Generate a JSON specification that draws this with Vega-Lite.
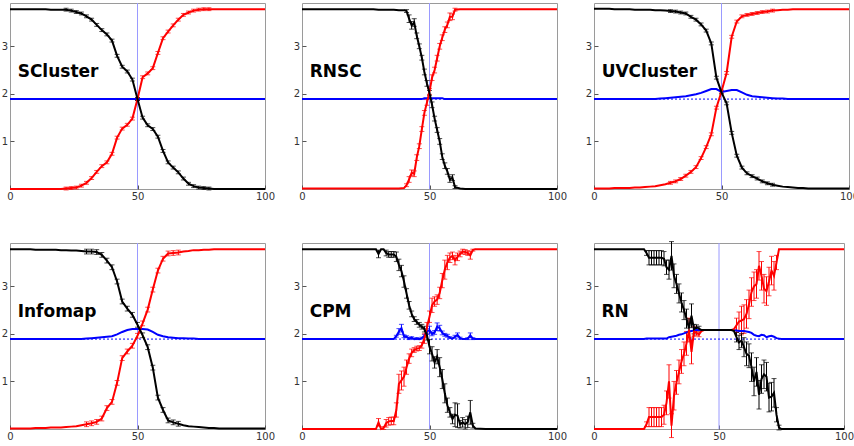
{
"$schema": "https://vega.github.io/schema/vega-lite/v6.json",
"padding": {"left": 0, "top": 2, "right": 0, "bottom": 0},
"background": "white",
"config": {
  "view": {"stroke": "#9a9a9a", "strokeWidth": 1},
  "axis": {"domain": false, "grid": false, "ticks": true, "tickSize": -4, "tickColor": "#555555", "tickWidth": 1, "labelFont": "DejaVu Sans", "labelFontSize": 10, "labelColor": "#333333", "labelFlush": false, "labelOverlap": false}
},
"data": {"values": [
{"p":"SCluster","s":"b","x":[0,2,4,6,8,10,12,14,16,18,20,22,24,26,28,30,32,34,36,38,40,42,44,46,48,50,52,54,56,58,60,62,64,66,68,70,72,74,76,78,80,82,84,86,88,90,92,94,96,98,100],
 "y":[1.89,1.89,1.89,1.89,1.89,1.89,1.89,1.89,1.89,1.89,1.89,1.89,1.89,1.89,1.89,1.89,1.89,1.89,1.89,1.89,1.89,1.89,1.89,1.89,1.89,1.89,1.89,1.89,1.89,1.89,1.89,1.89,1.89,1.89,1.89,1.89,1.89,1.89,1.89,1.89,1.89,1.89,1.89,1.89,1.89,1.89,1.89,1.89,1.89,1.89,1.89],"e":[]},
{"p":"SCluster","s":"r","x":[0,2,4,6,8,10,12,14,16,18,20,22,24,26,28,30,32,34,36,38,40,42,44,46,48,50,52,54,56,58,60,62,64,66,68,70,72,74,76,78,80,82,84,86,88,90,92,94,96,98,100],
 "y":[0,0,0,0,0,0,0,0,0,0,0,0.01,0.02,0.03,0.07,0.13,0.23,0.36,0.48,0.56,0.74,1.08,1.27,1.35,1.48,1.89,2.35,2.43,2.54,2.86,3.17,3.31,3.44,3.56,3.66,3.71,3.75,3.77,3.78,3.78,3.78,3.78,3.78,3.78,3.78,3.78,3.78,3.78,3.78,3.78,3.78],
 "e":[0,0,0,0,0,0,0,0,0,0,0,0.03,0.03,0.03,0.03,0.03,0.03,0.03,0.03,0.03,0.03,0.03,0.03,0.03,0.03,0.03,0.03,0.03,0.03,0.03,0.03,0.03,0.03,0.03,0.03,0.03,0.03,0.03,0.03,0.03]},
{"p":"SCluster","s":"k","x":[0,2,4,6,8,10,12,14,16,18,20,22,24,26,28,30,32,34,36,38,40,42,44,46,48,50,52,54,56,58,60,62,64,66,68,70,72,74,76,78,80,82,84,86,88,90,92,94,96,98,100],
 "y":[3.78,3.78,3.78,3.78,3.78,3.78,3.78,3.78,3.77,3.77,3.77,3.77,3.75,3.72,3.69,3.63,3.56,3.45,3.34,3.25,3.12,2.80,2.57,2.47,2.30,1.89,1.50,1.34,1.26,1.10,0.80,0.56,0.45,0.35,0.22,0.11,0.06,0.03,0.02,0.01,0,0,0,0,0,0,0,0,0,0,0],
 "e":[0,0,0,0,0,0,0,0,0,0,0,0.03,0.03,0.03,0.03,0.03,0.03,0.03,0.03,0.03,0.03,0.03,0.03,0.03,0.03,0.03,0.03,0.03,0.03,0.03,0.03,0.03,0.03,0.03,0.03,0.03,0.03,0.03,0.03,0.03]},
{"p":"RNSC","s":"b","x":[0,2,4,6,8,10,12,14,16,18,20,22,24,26,28,30,32,34,36,38,40,41,42,43,44,45,46,47,48,49,50,51,52,53,54,55,56,57,58,59,60,62,64,66,68,70,72,74,76,78,80,82,84,86,88,90,92,94,96,98,100],
 "y":[1.89,1.89,1.89,1.89,1.89,1.89,1.89,1.89,1.89,1.89,1.89,1.89,1.89,1.89,1.89,1.89,1.89,1.89,1.89,1.89,1.89,1.89,1.89,1.89,1.89,1.89,1.89,1.89,1.91,1.91,1.91,1.91,1.91,1.91,1.91,1.91,1.89,1.89,1.89,1.89,1.89,1.89,1.89,1.89,1.89,1.89,1.89,1.89,1.89,1.89,1.89,1.89,1.89,1.89,1.89,1.89,1.89,1.89,1.89,1.89,1.89],"e":[]},
{"p":"RNSC","s":"r","x":[0,2,4,6,8,10,12,14,16,18,20,22,24,26,28,30,32,34,36,38,40,41,42,43,44,45,46,47,48,49,50,51,52,53,54,55,56,57,58,59,60,62,64,66,68,70,72,74,76,78,80,82,84,86,88,90,92,94,96,98,100],
 "y":[0.01,0.01,0.01,0.01,0.01,0.01,0.01,0.01,0.01,0.01,0.01,0.01,0.01,0.01,0.01,0.01,0.01,0.01,0.01,0.01,0.02,0.08,0.20,0.34,0.32,0.66,0.90,1.26,1.60,1.82,2.05,2.34,2.50,2.75,3.00,3.18,3.35,3.45,3.62,3.62,3.77,3.78,3.78,3.78,3.78,3.78,3.78,3.78,3.78,3.78,3.78,3.78,3.78,3.78,3.78,3.78,3.78,3.78,3.78,3.78,3.78],
 "e":[0,0,0,0,0,0,0,0,0,0,0,0,0,0,0,0,0,0,0,0,0,0.03,0.06,0.06,0.06,0.06,0.05,0.05,0.05,0.06,0.06,0.06,0.06,0.06,0.06,0.06,0.06,0.06,0.08,0.06,0.03]},
{"p":"RNSC","s":"k","x":[0,2,4,6,8,10,12,14,16,18,20,22,24,26,28,30,32,34,36,38,40,41,42,43,44,45,46,47,48,49,50,51,52,53,54,55,56,57,58,59,60,62,64,66,68,70,72,74,76,78,80,82,84,86,88,90,92,94,96,98,100],
 "y":[3.78,3.78,3.78,3.78,3.78,3.78,3.78,3.78,3.78,3.78,3.78,3.78,3.78,3.78,3.78,3.77,3.77,3.77,3.77,3.76,3.76,3.74,3.58,3.44,3.50,3.22,3.00,2.76,2.46,2.22,2.02,1.77,1.48,1.24,1.00,0.68,0.49,0.37,0.20,0.24,0.04,0.01,0,0,0,0,0,0,0,0,0,0,0,0,0,0,0,0,0,0,0],
 "e":[0,0,0,0,0,0,0,0,0,0,0,0,0,0,0,0,0,0,0,0,0,0.03,0.08,0.08,0.08,0.06,0.05,0.05,0.06,0.06,0.05,0.06,0.05,0.05,0.06,0.06,0.06,0.06,0.06,0.06,0.03]},
{"p":"UVCluster","s":"b","x":[0,2,4,6,8,10,12,14,16,18,20,22,24,26,28,30,32,34,36,38,40,42,44,46,48,50,52,54,56,58,60,62,64,66,68,70,72,74,76,78,80,82,84,86,88,90,92,94,96,98,100],
 "y":[1.89,1.89,1.89,1.89,1.89,1.89,1.89,1.89,1.89,1.89,1.89,1.89,1.89,1.90,1.91,1.92,1.93,1.94,1.95,1.97,1.99,2.02,2.06,2.10,2.10,2.04,2.06,2.08,2.08,2.03,1.98,1.95,1.94,1.93,1.92,1.91,1.90,1.90,1.89,1.89,1.89,1.89,1.89,1.89,1.89,1.89,1.89,1.89,1.89,1.89,1.89],"e":[]},
{"p":"UVCluster","s":"r","x":[0,2,4,6,8,10,12,14,16,18,20,22,24,26,28,30,32,34,36,38,40,42,44,46,48,50,52,54,56,58,60,62,64,66,68,70,72,74,76,78,80,82,84,86,88,90,92,94,96,98,100],
 "y":[0.01,0.01,0.01,0.01,0.02,0.02,0.02,0.02,0.03,0.03,0.04,0.05,0.06,0.08,0.10,0.13,0.16,0.21,0.28,0.36,0.46,0.65,0.88,1.15,1.71,2.05,2.44,3.20,3.52,3.63,3.66,3.68,3.70,3.72,3.73,3.75,3.76,3.77,3.77,3.78,3.78,3.78,3.78,3.78,3.78,3.78,3.78,3.78,3.78,3.78,3.78],
 "e":[0,0,0,0,0,0,0,0,0,0,0,0,0,0,0,0.03,0.03,0.03,0.03,0.03,0.03,0.03,0.03,0.03,0.03,0.03,0.03,0.03,0.03,0.03,0.03,0.03,0.03,0.03,0.03,0.03]},
{"p":"UVCluster","s":"k","x":[0,2,4,6,8,10,12,14,16,18,20,22,24,26,28,30,32,34,36,38,40,42,44,46,48,50,52,54,56,58,60,62,64,66,68,70,72,74,76,78,80,82,84,86,88,90,92,94,96,98,100],
 "y":[3.79,3.79,3.79,3.79,3.78,3.78,3.78,3.78,3.77,3.77,3.77,3.77,3.76,3.76,3.75,3.74,3.73,3.71,3.69,3.62,3.56,3.46,3.33,3.06,2.34,2.03,1.80,1.18,0.70,0.45,0.33,0.27,0.22,0.16,0.12,0.09,0.07,0.05,0.04,0.03,0.02,0.02,0.01,0.01,0.01,0.01,0.01,0.01,0.01,0.01,0.01],
 "e":[0,0,0,0,0,0,0,0,0,0,0,0,0,0,0,0.03,0.03,0.03,0.03,0.03,0.03,0.03,0.03,0.03,0.03,0.03,0.03,0.03,0.03,0.03,0.03,0.03,0.03,0.03,0.03,0.03]},
{"p":"Infomap","s":"b","x":[0,2,4,6,8,10,12,14,16,18,20,22,24,26,28,30,32,34,36,38,40,42,44,46,48,50,52,54,56,58,60,62,64,66,68,70,72,74,76,78,80,82,84,86,88,90,92,94,96,98,100],
 "y":[1.89,1.89,1.89,1.89,1.89,1.89,1.89,1.89,1.89,1.89,1.89,1.89,1.89,1.89,1.89,1.90,1.91,1.92,1.93,1.94,1.95,1.99,2.04,2.08,2.10,2.10,2.10,2.09,2.04,1.98,1.95,1.93,1.92,1.91,1.91,1.90,1.90,1.89,1.89,1.89,1.89,1.89,1.89,1.89,1.89,1.89,1.89,1.89,1.89,1.89,1.89],"e":[]},
{"p":"Infomap","s":"r","x":[0,2,4,6,8,10,12,14,16,18,20,22,24,26,28,30,32,34,36,38,40,42,44,46,48,50,52,54,56,58,60,62,64,66,68,70,72,74,76,78,80,82,84,86,88,90,92,94,96,98,100],
 "y":[0.01,0.01,0.01,0.01,0.01,0.02,0.02,0.02,0.03,0.03,0.03,0.04,0.05,0.06,0.08,0.10,0.12,0.15,0.22,0.44,0.57,0.97,1.49,1.63,1.75,1.96,2.22,2.51,2.93,3.33,3.58,3.69,3.70,3.71,3.73,3.74,3.76,3.76,3.77,3.77,3.78,3.78,3.78,3.78,3.78,3.78,3.78,3.78,3.78,3.78,3.78],
 "e":[0,0,0,0,0,0,0,0,0,0,0,0,0,0,0,0.05,0.05,0.05,0.05,0.05,0.05,0.05,0.05,0.05,0.05,0.05,0.05,0.05,0.05,0.05,0.05,0.05,0.05,0.05]},
{"p":"Infomap","s":"k","x":[0,2,4,6,8,10,12,14,16,18,20,22,24,26,28,30,32,34,36,38,40,42,44,46,48,50,52,54,56,58,60,62,64,66,68,70,72,74,76,78,80,82,84,86,88,90,92,94,96,98,100],
 "y":[3.78,3.78,3.78,3.78,3.78,3.77,3.77,3.77,3.77,3.77,3.76,3.76,3.75,3.75,3.74,3.73,3.73,3.72,3.66,3.54,3.40,3.10,2.68,2.53,2.40,2.19,1.97,1.72,1.29,0.66,0.40,0.18,0.14,0.11,0.08,0.06,0.05,0.04,0.03,0.02,0.02,0.01,0.01,0.01,0.01,0.01,0.01,0.01,0.01,0.01,0.01],
 "e":[0,0,0,0,0,0,0,0,0,0,0,0,0,0,0,0.05,0.05,0.05,0.05,0.05,0.05,0.05,0.05,0.05,0.05,0.05,0.05,0.05,0.05,0.05,0.05,0.05,0.05,0.05]},
{"p":"CPM","s":"b","x":[0,4,8,12,16,20,24,28,29,30,31,32,33,34,35,36,37,38,39,40,41,42,43,44,45,46,47,48,49,50,51,52,53,54,55,56,57,58,59,60,61,62,63,64,65,66,67,68,72,76,80,84,88,92,96,100],
 "y":[1.89,1.89,1.89,1.89,1.89,1.89,1.89,1.89,1.89,1.89,1.89,1.89,1.89,1.89,1.89,1.89,1.95,2.05,2.12,1.95,1.94,1.90,1.92,1.89,1.90,1.89,1.91,1.96,2.05,2.08,2.00,2.03,2.15,2.12,2.02,1.98,1.96,1.92,1.90,1.94,1.98,1.91,1.89,1.89,1.90,1.97,1.90,1.89,1.89,1.89,1.89,1.89,1.89,1.89,1.89,1.89],
 "e":[0,0,0,0,0,0,0,0,0,0,0,0,0,0,0,0,0.02,0.06,0.08,0.03,0.02,0.02,0.02,0,0.02,0,0.02,0.03,0.06,0.08,0.04,0.04,0.08,0.06,0.04,0.03,0.03,0.02,0,0.03,0.04,0.02,0,0,0.02,0.05,0.02]},
{"p":"CPM","s":"r","x":[0,4,8,12,16,20,24,28,29,30,31,32,33,34,35,36,37,38,39,40,41,42,43,44,45,46,47,48,49,50,51,52,53,54,55,56,57,58,59,60,61,62,63,64,65,66,67,68,72,76,80,84,88,92,96,100],
 "y":[0,0,0,0,0,0,0,0,0,0.14,0,0.02,0.12,0.16,0.17,0.17,0.40,0.95,1.02,1.10,1.30,1.48,1.60,1.66,1.69,1.70,1.76,1.90,2.14,2.36,2.60,2.68,2.72,2.86,3.12,3.35,3.50,3.60,3.64,3.55,3.62,3.68,3.73,3.72,3.70,3.65,3.76,3.78,3.78,3.78,3.78,3.78,3.78,3.78,3.78,3.78],
 "e":[0,0,0,0,0,0,0,0,0,0.08,0,0.03,0.08,0.08,0.08,0.08,0.15,0.20,0.20,0.20,0.15,0.10,0.08,0.05,0.05,0.05,0.06,0.10,0.10,0.12,0.15,0.10,0.10,0.12,0.15,0.20,0.15,0.10,0.08,0.10,0.08,0.06,0.05,0.05,0.05,0.08,0.02]},
{"p":"CPM","s":"k","x":[0,4,8,12,16,20,24,28,29,30,31,32,33,34,35,36,37,38,39,40,41,42,43,44,45,46,47,48,49,50,51,52,53,54,55,56,57,58,59,60,61,62,63,64,65,66,67,68,72,76,80,84,88,92,96,100],
 "y":[3.78,3.78,3.78,3.78,3.78,3.78,3.78,3.78,3.78,3.68,3.78,3.78,3.70,3.67,3.67,3.67,3.62,3.45,3.32,3.10,2.85,2.60,2.42,2.31,2.25,2.19,2.15,2.10,1.97,1.73,1.58,1.40,1.52,1.30,1.05,0.75,0.50,0.35,0.21,0.30,0.28,0.10,0.14,0.10,0.15,0.35,0.07,0.01,0,0,0,0,0,0,0,0],
 "e":[0,0,0,0,0,0,0,0,0,0.08,0,0,0.06,0.06,0.06,0.06,0.10,0.12,0.12,0.12,0.10,0.08,0.06,0.05,0.05,0.05,0.05,0.06,0.10,0.15,0.15,0.12,0.15,0.20,0.20,0.20,0.15,0.10,0.10,0.25,0.25,0.08,0.10,0.10,0.12,0.25,0.05]},
{"p":"RN","s":"b","x":[0,4,8,12,16,20,21,22,23,24,25,26,27,28,29,30,31,32,33,34,35,36,37,38,39,40,41,42,43,44,45,46,47,48,49,50,51,52,53,54,55,56,57,58,59,60,61,62,63,64,65,66,67,68,69,70,71,72,73,74,75,76,80,84,88,92,96,100],
 "y":[1.89,1.89,1.89,1.89,1.89,1.89,1.90,1.90,1.90,1.90,1.90,1.90,1.90,1.90,1.90,1.93,1.94,1.95,1.96,1.98,1.99,2.01,2.03,2.05,2.06,2.07,2.08,2.08,2.08,2.08,2.08,2.08,2.08,2.08,2.08,2.08,2.08,2.08,2.08,2.08,2.08,2.08,2.07,2.06,2.06,2.06,2.05,2.04,2.02,1.98,1.96,1.95,1.98,1.97,1.93,1.95,1.96,1.94,1.91,1.90,1.89,1.89,1.89,1.89,1.89,1.89,1.89,1.89],"e":[]},
{"p":"RN","s":"r","x":[0,4,8,12,16,20,21,22,23,24,25,26,27,28,29,30,31,32,33,34,35,36,37,38,39,40,41,42,43,44,45,46,47,48,49,50,51,52,53,54,55,56,57,58,59,60,61,62,63,64,65,66,67,68,69,70,71,72,73,74,75,76,80,84,88,92,96,100],
 "y":[0,0,0,0,0,0,0.10,0.25,0.25,0.25,0.25,0.25,0.25,0.30,0.55,1.00,0.07,0.70,0.98,1.20,1.42,1.58,1.80,2.08,1.62,2.05,2.02,1.99,2.06,2.08,2.08,2.08,2.08,2.08,2.08,2.08,2.08,2.08,2.08,2.08,2.08,2.10,2.18,2.26,2.28,2.31,2.42,2.62,2.88,3.00,3.05,3.43,3.22,2.95,2.90,3.10,3.33,3.22,3.50,3.78,3.78,3.78,3.78,3.78,3.78,3.78,3.78,3.78],
 "e":[0,0,0,0,0,0,0.05,0.2,0.2,0.2,0.2,0.2,0.2,0.2,0.25,0.35,0.25,0.3,0.25,0.25,0.25,0.25,0.25,0.25,0.25,0.1,0.05,0.05,0,0,0,0,0,0,0,0,0,0,0,0,0,0,0.15,0.2,0.3,0.3,0.3,0.3,0.3,0.3,0.3,0.3,0.3,0.3,0.3,0.3,0.3,0.3,0.15]},
{"p":"RN","s":"k","x":[0,4,8,12,16,20,21,22,23,24,25,26,27,28,29,30,31,32,33,34,35,36,37,38,39,40,41,42,43,44,45,46,47,48,49,50,51,52,53,54,55,56,57,58,59,60,61,62,63,64,65,66,67,68,69,70,71,72,73,74,75,76,80,84,88,92,96,100],
 "y":[3.78,3.78,3.78,3.78,3.78,3.78,3.70,3.60,3.60,3.60,3.60,3.60,3.60,3.58,3.40,3.35,3.64,3.22,3.05,2.85,2.66,2.50,2.32,2.12,2.38,2.10,2.14,2.11,2.08,2.08,2.08,2.08,2.08,2.08,2.08,2.08,2.08,2.08,2.08,2.08,2.08,2.06,1.93,1.82,1.86,1.72,1.58,1.54,1.30,1.00,1.20,0.72,1.05,1.15,1.10,0.66,0.68,0.76,0.30,0.03,0,0,0,0,0,0,0,0],
 "e":[0,0,0,0,0,0,0.05,0.15,0.15,0.15,0.15,0.15,0.15,0.15,0.15,0.2,0.3,0.25,0.2,0.2,0.2,0.2,0.2,0.2,0.25,0.1,0.05,0.05,0,0,0,0,0,0,0,0,0,0,0,0,0,0,0.1,0.15,0.15,0.2,0.25,0.25,0.3,0.3,0.3,0.3,0.3,0.3,0.3,0.3,0.3,0.3,0.15,0.05]}
]},
"columns": 3,
"spacing": {"row": 54, "column": 37},
"bounds": "flush",
"concat": [
  {"transform": [{"filter": "datum.p == 'SCluster'"}], "width": 255, "height": 186, "layer": [
    {"transform": [{"filter": "datum.s == 'k'"}], "mark": {"type": "rule", "color": "#9a9aff", "strokeWidth": 1}, "encoding": {"x": {"datum": 50, "type": "quantitative", "scale": {"domain": [0, 100], "nice": false}}}},
    {"transform": [{"filter": "datum.s == 'k'"}], "mark": {"type": "rule", "color": "#0000ff", "strokeWidth": 1, "strokeDash": [2, 2]}, "encoding": {"y": {"datum": 1.89, "type": "quantitative", "scale": {"domain": [0, 3.91], "nice": false, "zero": false}}}},
    {"transform": [{"flatten": ["x", "y", "e"]}, {"filter": "datum.e > 0"}], "mark": {"type": "errorbar", "ticks": {"size": 5}, "thickness": 1}, "encoding": {"x": {"field": "x", "type": "quantitative", "title": null, "scale": {"domain": [0, 100], "nice": false}}, "y": {"field": "y", "type": "quantitative", "title": null, "scale": {"domain": [0, 3.91], "nice": false, "zero": false}}, "yError": {"field": "e"}, "color": {"field": "s", "type": "nominal", "scale": {"domain": ["b", "r", "k"], "range": ["#0000ff", "#ff0000", "#000000"]}, "legend": null}}},
    {"transform": [{"flatten": ["x", "y", "e"]}], "mark": {"type": "line", "strokeWidth": 2}, "encoding": {"x": {"field": "x", "type": "quantitative", "title": null, "scale": {"domain": [0, 100], "nice": false}, "axis": {"values": [0, 50, 100], "labelPadding": 6.5}}, "y": {"field": "y", "type": "quantitative", "title": null, "scale": {"domain": [0, 3.91], "nice": false, "zero": false}, "axis": {"values": [1, 2, 3], "format": "d", "labelPadding": 6.5}}, "color": {"field": "s", "type": "nominal", "scale": {"domain": ["b", "r", "k"], "range": ["#0000ff", "#ff0000", "#000000"]}, "legend": null}}},
    {"transform": [{"filter": "datum.s == 'k'"}], "mark": {"type": "text", "align": "left", "baseline": "middle", "font": "DejaVu Sans", "fontWeight": "bold", "fontSize": 17, "color": "#000000"}, "encoding": {"x": {"datum": 3, "type": "quantitative"}, "y": {"datum": 2.46, "type": "quantitative"}, "text": {"field": "p", "type": "nominal"}}}
  ]},
  {"transform": [{"filter": "datum.p == 'RNSC'"}], "width": 255, "height": 186, "layer": [
    {"transform": [{"filter": "datum.s == 'k'"}], "mark": {"type": "rule", "color": "#9a9aff", "strokeWidth": 1}, "encoding": {"x": {"datum": 50, "type": "quantitative", "scale": {"domain": [0, 100], "nice": false}}}},
    {"transform": [{"filter": "datum.s == 'k'"}], "mark": {"type": "rule", "color": "#0000ff", "strokeWidth": 1, "strokeDash": [2, 2]}, "encoding": {"y": {"datum": 1.89, "type": "quantitative", "scale": {"domain": [0, 3.91], "nice": false, "zero": false}}}},
    {"transform": [{"flatten": ["x", "y", "e"]}, {"filter": "datum.e > 0"}], "mark": {"type": "errorbar", "ticks": {"size": 5}, "thickness": 1}, "encoding": {"x": {"field": "x", "type": "quantitative", "title": null, "scale": {"domain": [0, 100], "nice": false}}, "y": {"field": "y", "type": "quantitative", "title": null, "scale": {"domain": [0, 3.91], "nice": false, "zero": false}}, "yError": {"field": "e"}, "color": {"field": "s", "type": "nominal", "scale": {"domain": ["b", "r", "k"], "range": ["#0000ff", "#ff0000", "#000000"]}, "legend": null}}},
    {"transform": [{"flatten": ["x", "y", "e"]}], "mark": {"type": "line", "strokeWidth": 2}, "encoding": {"x": {"field": "x", "type": "quantitative", "title": null, "scale": {"domain": [0, 100], "nice": false}, "axis": {"values": [0, 50, 100], "labelPadding": 6.5}}, "y": {"field": "y", "type": "quantitative", "title": null, "scale": {"domain": [0, 3.91], "nice": false, "zero": false}, "axis": {"values": [1, 2, 3], "format": "d", "labelPadding": 6.5}}, "color": {"field": "s", "type": "nominal", "scale": {"domain": ["b", "r", "k"], "range": ["#0000ff", "#ff0000", "#000000"]}, "legend": null}}},
    {"transform": [{"filter": "datum.s == 'k'"}], "mark": {"type": "text", "align": "left", "baseline": "middle", "font": "DejaVu Sans", "fontWeight": "bold", "fontSize": 17, "color": "#000000"}, "encoding": {"x": {"datum": 3, "type": "quantitative"}, "y": {"datum": 2.46, "type": "quantitative"}, "text": {"field": "p", "type": "nominal"}}}
  ]},
  {"transform": [{"filter": "datum.p == 'UVCluster'"}], "width": 255, "height": 186, "layer": [
    {"transform": [{"filter": "datum.s == 'k'"}], "mark": {"type": "rule", "color": "#9a9aff", "strokeWidth": 1}, "encoding": {"x": {"datum": 50, "type": "quantitative", "scale": {"domain": [0, 100], "nice": false}}}},
    {"transform": [{"filter": "datum.s == 'k'"}], "mark": {"type": "rule", "color": "#0000ff", "strokeWidth": 1, "strokeDash": [2, 2]}, "encoding": {"y": {"datum": 1.89, "type": "quantitative", "scale": {"domain": [0, 3.91], "nice": false, "zero": false}}}},
    {"transform": [{"flatten": ["x", "y", "e"]}, {"filter": "datum.e > 0"}], "mark": {"type": "errorbar", "ticks": {"size": 5}, "thickness": 1}, "encoding": {"x": {"field": "x", "type": "quantitative", "title": null, "scale": {"domain": [0, 100], "nice": false}}, "y": {"field": "y", "type": "quantitative", "title": null, "scale": {"domain": [0, 3.91], "nice": false, "zero": false}}, "yError": {"field": "e"}, "color": {"field": "s", "type": "nominal", "scale": {"domain": ["b", "r", "k"], "range": ["#0000ff", "#ff0000", "#000000"]}, "legend": null}}},
    {"transform": [{"flatten": ["x", "y", "e"]}], "mark": {"type": "line", "strokeWidth": 2}, "encoding": {"x": {"field": "x", "type": "quantitative", "title": null, "scale": {"domain": [0, 100], "nice": false}, "axis": {"values": [0, 50, 100], "labelPadding": 6.5}}, "y": {"field": "y", "type": "quantitative", "title": null, "scale": {"domain": [0, 3.91], "nice": false, "zero": false}, "axis": {"values": [1, 2, 3], "format": "d", "labelPadding": 6.5}}, "color": {"field": "s", "type": "nominal", "scale": {"domain": ["b", "r", "k"], "range": ["#0000ff", "#ff0000", "#000000"]}, "legend": null}}},
    {"transform": [{"filter": "datum.s == 'k'"}], "mark": {"type": "text", "align": "left", "baseline": "middle", "font": "DejaVu Sans", "fontWeight": "bold", "fontSize": 17, "color": "#000000"}, "encoding": {"x": {"datum": 3, "type": "quantitative"}, "y": {"datum": 2.46, "type": "quantitative"}, "text": {"field": "p", "type": "nominal"}}}
  ]},
  {"transform": [{"filter": "datum.p == 'Infomap'"}], "width": 255, "height": 186, "layer": [
    {"transform": [{"filter": "datum.s == 'k'"}], "mark": {"type": "rule", "color": "#9a9aff", "strokeWidth": 1}, "encoding": {"x": {"datum": 50, "type": "quantitative", "scale": {"domain": [0, 100], "nice": false}}}},
    {"transform": [{"filter": "datum.s == 'k'"}], "mark": {"type": "rule", "color": "#0000ff", "strokeWidth": 1, "strokeDash": [2, 2]}, "encoding": {"y": {"datum": 1.89, "type": "quantitative", "scale": {"domain": [0, 3.91], "nice": false, "zero": false}}}},
    {"transform": [{"flatten": ["x", "y", "e"]}, {"filter": "datum.e > 0"}], "mark": {"type": "errorbar", "ticks": {"size": 5}, "thickness": 1}, "encoding": {"x": {"field": "x", "type": "quantitative", "title": null, "scale": {"domain": [0, 100], "nice": false}}, "y": {"field": "y", "type": "quantitative", "title": null, "scale": {"domain": [0, 3.91], "nice": false, "zero": false}}, "yError": {"field": "e"}, "color": {"field": "s", "type": "nominal", "scale": {"domain": ["b", "r", "k"], "range": ["#0000ff", "#ff0000", "#000000"]}, "legend": null}}},
    {"transform": [{"flatten": ["x", "y", "e"]}], "mark": {"type": "line", "strokeWidth": 2}, "encoding": {"x": {"field": "x", "type": "quantitative", "title": null, "scale": {"domain": [0, 100], "nice": false}, "axis": {"values": [0, 50, 100], "labelPadding": 6.5}}, "y": {"field": "y", "type": "quantitative", "title": null, "scale": {"domain": [0, 3.91], "nice": false, "zero": false}, "axis": {"values": [1, 2, 3], "format": "d", "labelPadding": 6.5}}, "color": {"field": "s", "type": "nominal", "scale": {"domain": ["b", "r", "k"], "range": ["#0000ff", "#ff0000", "#000000"]}, "legend": null}}},
    {"transform": [{"filter": "datum.s == 'k'"}], "mark": {"type": "text", "align": "left", "baseline": "middle", "font": "DejaVu Sans", "fontWeight": "bold", "fontSize": 17, "color": "#000000"}, "encoding": {"x": {"datum": 3, "type": "quantitative"}, "y": {"datum": 2.46, "type": "quantitative"}, "text": {"field": "p", "type": "nominal"}}}
  ]},
  {"transform": [{"filter": "datum.p == 'CPM'"}], "width": 255, "height": 186, "layer": [
    {"transform": [{"filter": "datum.s == 'k'"}], "mark": {"type": "rule", "color": "#9a9aff", "strokeWidth": 1}, "encoding": {"x": {"datum": 50, "type": "quantitative", "scale": {"domain": [0, 100], "nice": false}}}},
    {"transform": [{"filter": "datum.s == 'k'"}], "mark": {"type": "rule", "color": "#0000ff", "strokeWidth": 1, "strokeDash": [2, 2]}, "encoding": {"y": {"datum": 1.89, "type": "quantitative", "scale": {"domain": [0, 3.91], "nice": false, "zero": false}}}},
    {"transform": [{"flatten": ["x", "y", "e"]}, {"filter": "datum.e > 0"}], "mark": {"type": "errorbar", "ticks": {"size": 5}, "thickness": 1}, "encoding": {"x": {"field": "x", "type": "quantitative", "title": null, "scale": {"domain": [0, 100], "nice": false}}, "y": {"field": "y", "type": "quantitative", "title": null, "scale": {"domain": [0, 3.91], "nice": false, "zero": false}}, "yError": {"field": "e"}, "color": {"field": "s", "type": "nominal", "scale": {"domain": ["b", "r", "k"], "range": ["#0000ff", "#ff0000", "#000000"]}, "legend": null}}},
    {"transform": [{"flatten": ["x", "y", "e"]}], "mark": {"type": "line", "strokeWidth": 2}, "encoding": {"x": {"field": "x", "type": "quantitative", "title": null, "scale": {"domain": [0, 100], "nice": false}, "axis": {"values": [0, 50, 100], "labelPadding": 6.5}}, "y": {"field": "y", "type": "quantitative", "title": null, "scale": {"domain": [0, 3.91], "nice": false, "zero": false}, "axis": {"values": [1, 2, 3], "format": "d", "labelPadding": 6.5}}, "color": {"field": "s", "type": "nominal", "scale": {"domain": ["b", "r", "k"], "range": ["#0000ff", "#ff0000", "#000000"]}, "legend": null}}},
    {"transform": [{"filter": "datum.s == 'k'"}], "mark": {"type": "text", "align": "left", "baseline": "middle", "font": "DejaVu Sans", "fontWeight": "bold", "fontSize": 17, "color": "#000000"}, "encoding": {"x": {"datum": 3, "type": "quantitative"}, "y": {"datum": 2.46, "type": "quantitative"}, "text": {"field": "p", "type": "nominal"}}}
  ]},
  {"transform": [{"filter": "datum.p == 'RN'"}], "width": 250, "height": 186, "layer": [
    {"transform": [{"filter": "datum.s == 'k'"}], "mark": {"type": "rule", "color": "#9a9aff", "strokeWidth": 1}, "encoding": {"x": {"datum": 50, "type": "quantitative", "scale": {"domain": [0, 100], "nice": false}}}},
    {"transform": [{"filter": "datum.s == 'k'"}], "mark": {"type": "rule", "color": "#0000ff", "strokeWidth": 1, "strokeDash": [2, 2]}, "encoding": {"y": {"datum": 1.89, "type": "quantitative", "scale": {"domain": [0, 3.91], "nice": false, "zero": false}}}},
    {"transform": [{"flatten": ["x", "y", "e"]}, {"filter": "datum.e > 0"}], "mark": {"type": "errorbar", "ticks": {"size": 5}, "thickness": 1}, "encoding": {"x": {"field": "x", "type": "quantitative", "title": null, "scale": {"domain": [0, 100], "nice": false}}, "y": {"field": "y", "type": "quantitative", "title": null, "scale": {"domain": [0, 3.91], "nice": false, "zero": false}}, "yError": {"field": "e"}, "color": {"field": "s", "type": "nominal", "scale": {"domain": ["b", "r", "k"], "range": ["#0000ff", "#ff0000", "#000000"]}, "legend": null}}},
    {"transform": [{"flatten": ["x", "y", "e"]}], "mark": {"type": "line", "strokeWidth": 2}, "encoding": {"x": {"field": "x", "type": "quantitative", "title": null, "scale": {"domain": [0, 100], "nice": false}, "axis": {"values": [0, 50, 100], "labelPadding": 6.5}}, "y": {"field": "y", "type": "quantitative", "title": null, "scale": {"domain": [0, 3.91], "nice": false, "zero": false}, "axis": {"values": [1, 2, 3], "format": "d", "labelPadding": 6.5}}, "color": {"field": "s", "type": "nominal", "scale": {"domain": ["b", "r", "k"], "range": ["#0000ff", "#ff0000", "#000000"]}, "legend": null}}},
    {"transform": [{"filter": "datum.s == 'k'"}], "mark": {"type": "text", "align": "left", "baseline": "middle", "font": "DejaVu Sans", "fontWeight": "bold", "fontSize": 17, "color": "#000000"}, "encoding": {"x": {"datum": 3, "type": "quantitative"}, "y": {"datum": 2.46, "type": "quantitative"}, "text": {"field": "p", "type": "nominal"}}}
  ]}
]
}
